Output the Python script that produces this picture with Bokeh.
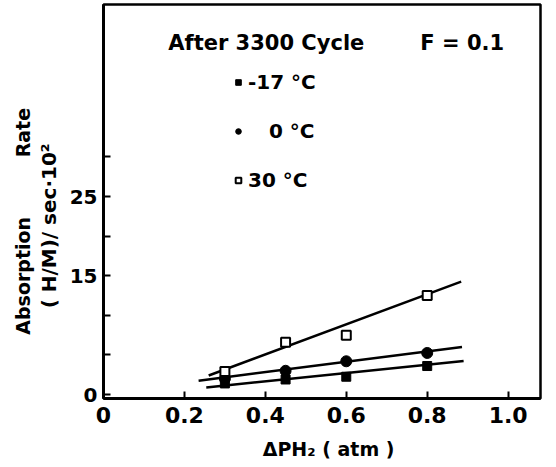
from bokeh.plotting import figure
from bokeh.models import (Label, Legend, LegendItem, FixedTicker, Range1d, LinearAxis)
from bokeh.embed import file_html
from bokeh.resources import INLINE

# ---- data ----
pressure = [0.3, 0.45, 0.6, 0.8]          # ΔP_H2 (atm)
rate_m17 = [1.4, 1.9, 2.25, 3.6]          # -17 °C  (filled squares)
rate_0 = [2.0, 3.0, 4.2, 5.25]            # 0 °C    (filled circles)
rate_30 = [2.9, 6.6, 7.5, 12.5]           # 30 °C   (open squares)

fit_m17_x = [0.254, 0.89]
fit_m17_y = [0.9, 4.25]
fit_0_x = [0.235, 0.886]
fit_0_y = [1.75, 6.0]
fit_30_x = [0.26, 0.884]
fit_30_y = [2.4, 14.25]

x_ticks = [0, 0.2, 0.4, 0.6, 0.8, 1.0]
x_tick_labels = ["0", "0.2", "0.4", "0.6", "0.8", "1.0"]
y_ticks = [0, 5, 10, 15, 20, 25, 30]
y_tick_labels = ["0", "", "", "15", "", "25", ""]

FONT = "DejaVu Sans"
NB = "\u00a0"

p = figure(width=556, height=467, output_backend="svg", toolbar_location=None,
           x_range=Range1d(0, 1.08), y_range=Range1d(-0.5, 49.25),
           min_border_left=103, min_border_right=16, min_border_top=4,
           min_border_bottom=69)
p.grid.visible = False
p.outline_line_color = "black"
p.outline_line_width = 2.5
p.background_fill_color = "white"
p.border_fill_color = "white"

for ax in (p.xaxis[0], p.yaxis[0]):
    ax.axis_line_width = 3
    ax.major_tick_line_width = 2
    ax.major_tick_in = 7
    ax.major_tick_out = 0
    ax.minor_tick_line_color = None
    ax.major_label_text_font = FONT
    ax.major_label_text_font_style = "bold"
    ax.major_label_text_color = "black"
    ax.axis_label_text_font = FONT
    ax.axis_label_text_font_style = "bold"
    ax.axis_label_text_font_size = "19px"
    ax.axis_label_text_color = "black"

p.xaxis.major_label_text_font_size = "22px"
p.yaxis.major_label_text_font_size = "20px"

p.xaxis.ticker = FixedTicker(ticks=x_ticks)
p.xaxis.major_label_overrides = {t: l for t, l in zip(x_ticks, x_tick_labels)}
p.xaxis.major_label_standoff = 8
p.xaxis.axis_label = NB * 2 + "ΔPH₂ ( atm )"
p.xaxis.axis_label_standoff = 12

p.yaxis.ticker = FixedTicker(ticks=y_ticks)
p.yaxis.major_label_overrides = {t: l for t, l in zip(y_ticks, y_tick_labels)}
p.yaxis.major_label_standoff = 6
p.yaxis.axis_label = "( H/M)/ sec·10²" + NB * 7
p.yaxis.axis_label_text_font_size = "20px"
p.yaxis.axis_label_standoff = 6

outer = LinearAxis(ticker=FixedTicker(ticks=[]), axis_line_color=None,
                   major_tick_line_color=None, minor_tick_line_color=None,
                   major_label_text_font_size="0px", major_label_standoff=0,
                   axis_label="Absorption" + NB * 9 + "Rate" + NB * 6,
                   axis_label_standoff=0, axis_label_text_font=FONT,
                   axis_label_text_font_style="bold",
                   axis_label_text_font_size="19px",
                   axis_label_text_color="black")
p.add_layout(outer, "left")

# fit lines
p.line(fit_30_x, fit_30_y, line_color="black", line_width=2.5)
p.line(fit_0_x, fit_0_y, line_color="black", line_width=2.5)
p.line(fit_m17_x, fit_m17_y, line_color="black", line_width=2.5)

# points
r_m17 = p.scatter(pressure, rate_m17, marker="square", size=9,
                  fill_color="black", line_color="black")
r_0 = p.scatter(pressure, rate_0, marker="circle", size=11,
                fill_color="black", line_color="black")
r_30 = p.scatter(pressure, rate_30, marker="square", size=9,
                 fill_color="white", line_color="black", line_width=2)

legend = Legend(items=[
    LegendItem(label="-17 °C", renderers=[r_m17]),
    LegendItem(label=NB * 3 + "0 °C", renderers=[r_0]),
    LegendItem(label="30 °C", renderers=[r_30]),
], location=(118, 196), orientation="vertical",
    label_text_font=FONT, label_text_font_style="bold",
    label_text_font_size="20px", label_text_color="black",
    glyph_width=14, glyph_height=22, label_height=22, label_standoff=3,
    spacing=25, padding=10, border_line_alpha=0, background_fill_alpha=0)
p.add_layout(legend)

def lab(x, y, text, size="18px"):
    p.add_layout(Label(x=x, y=y, text=text, text_font=FONT, text_font_style="bold",
                       text_font_size=size, text_color="black",
                       text_align="left", text_baseline="middle"))

lab(0.16, 44.4, "After 3300 Cycle", size="21px")
lab(0.783, 44.4, "F = 0.1", size="21px")

open("out.html", "w").write(file_html(p, INLINE))
